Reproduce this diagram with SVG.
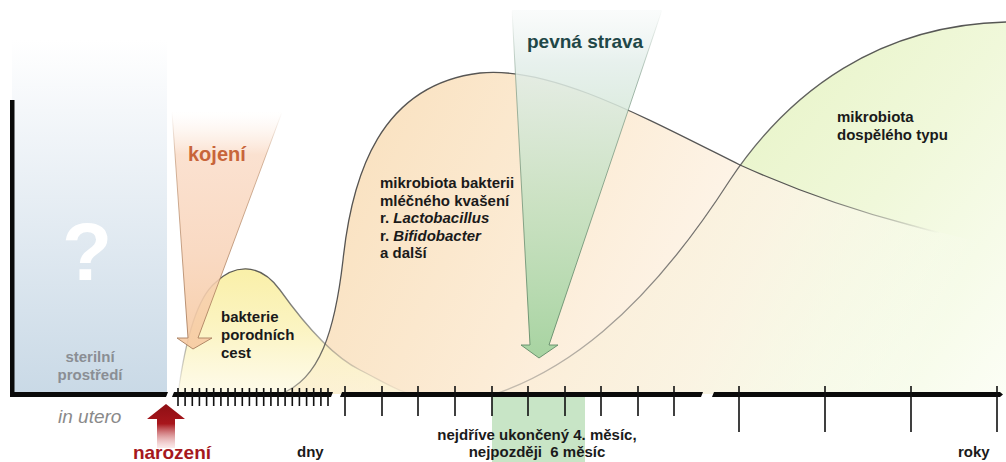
<svg xmlns="http://www.w3.org/2000/svg" width="1006" height="462" viewBox="0 0 1006 462">
<defs>
  <linearGradient id="gBlue" x1="0" y1="0" x2="0" y2="1">
    <stop offset="0" stop-color="#ffffff"/>
    <stop offset="0.2" stop-color="#f4f7fa"/>
    <stop offset="1" stop-color="#c9d9e6"/>
  </linearGradient>
  <linearGradient id="gPeach" gradientUnits="userSpaceOnUse" x1="340" y1="80" x2="1000" y2="380">
    <stop offset="0" stop-color="#f9e0bd"/>
    <stop offset="0.35" stop-color="#fcecd6"/>
    <stop offset="0.62" stop-color="#fdf3e6" stop-opacity="0.8"/>
    <stop offset="0.9" stop-color="#ffffff" stop-opacity="0"/>
  </linearGradient>
  <linearGradient id="gGreen" gradientUnits="userSpaceOnUse" x1="650" y1="120" x2="1006" y2="400">
    <stop offset="0" stop-color="#e6f3c4"/>
    <stop offset="0.5" stop-color="#f0f8da"/>
    <stop offset="1" stop-color="#fcfef6"/>
  </linearGradient>
  <linearGradient id="gYellow" x1="0" y1="0" x2="0" y2="1">
    <stop offset="0" stop-color="#f9ee9f"/>
    <stop offset="0.5" stop-color="#fbf3bd"/>
    <stop offset="1" stop-color="#fdf8dc" stop-opacity="0.7"/>
  </linearGradient>
  <linearGradient id="sPeach" gradientUnits="userSpaceOnUse" x1="280" y1="0" x2="940" y2="0">
    <stop offset="0" stop-color="#555" stop-opacity="0.4"/>
    <stop offset="0.08" stop-color="#444" stop-opacity="0.9"/>
    <stop offset="0.8" stop-color="#444" stop-opacity="0.9"/>
    <stop offset="1" stop-color="#555" stop-opacity="0"/>
  </linearGradient>
  <linearGradient id="sYellow" gradientUnits="userSpaceOnUse" x1="0" y1="265" x2="0" y2="394">
    <stop offset="0" stop-color="#444" stop-opacity="0.9"/>
    <stop offset="0.5" stop-color="#555" stop-opacity="0.6"/>
    <stop offset="1" stop-color="#666" stop-opacity="0.05"/>
  </linearGradient>
  <linearGradient id="sGreen" gradientUnits="userSpaceOnUse" x1="0" y1="22" x2="0" y2="394">
    <stop offset="0" stop-color="#444" stop-opacity="0.9"/>
    <stop offset="0.6" stop-color="#555" stop-opacity="0.8"/>
    <stop offset="1" stop-color="#666" stop-opacity="0.35"/>
  </linearGradient>
  <linearGradient id="gKojeni" x1="0" y1="0" x2="0" y2="1">
    <stop offset="0" stop-color="#fdf0e6" stop-opacity="0"/>
    <stop offset="0.18" stop-color="#fadcc8" stop-opacity="0.85"/>
    <stop offset="0.6" stop-color="#f8d3b8" stop-opacity="0.85"/>
    <stop offset="1" stop-color="#f6c9a0" stop-opacity="0.9"/>
  </linearGradient>
  <linearGradient id="sKojeni" x1="0" y1="0" x2="0" y2="1">
    <stop offset="0" stop-color="#b98a66" stop-opacity="0"/>
    <stop offset="0.2" stop-color="#b98a66" stop-opacity="0.6"/>
    <stop offset="1" stop-color="#a77c5c" stop-opacity="0.9"/>
  </linearGradient>
  <linearGradient id="gStrava" x1="0" y1="0" x2="0" y2="1">
    <stop offset="0" stop-color="#eef4f2" stop-opacity="0.3"/>
    <stop offset="0.15" stop-color="#e3eeea" stop-opacity="0.85"/>
    <stop offset="0.55" stop-color="#c3e0c0" stop-opacity="0.85"/>
    <stop offset="1" stop-color="#a3d29e" stop-opacity="0.95"/>
  </linearGradient>
  <linearGradient id="sStrava" x1="0" y1="0" x2="0" y2="1">
    <stop offset="0" stop-color="#6f8f7a" stop-opacity="0"/>
    <stop offset="0.2" stop-color="#6f8f7a" stop-opacity="0.6"/>
    <stop offset="1" stop-color="#5f8a66" stop-opacity="0.9"/>
  </linearGradient>
  <linearGradient id="gBirth" x1="0" y1="0" x2="0" y2="1">
    <stop offset="0" stop-color="#8e0f14"/>
    <stop offset="0.45" stop-color="#a8161c"/>
    <stop offset="1" stop-color="#f0b8b8" stop-opacity="0.3"/>
  </linearGradient>
</defs>
<style>
  .t{font-family:"Liberation Sans",Arial,sans-serif;font-weight:bold;font-size:15px;fill:#1a1a1a}
  .it{font-style:italic}
  .nb{font-weight:normal}
  .tick{stroke:#111;stroke-width:1.6;fill:none}
  .bar{fill:#0a0a0a}
</style>
<rect width="1006" height="462" fill="#ffffff"/>

<g id="in-utero-region">
  <rect x="12" y="40" width="155" height="356" fill="url(#gBlue)"/>
  <text x="87" y="280" text-anchor="middle" style="font-family:'Liberation Sans',Arial,sans-serif;font-weight:bold;font-size:82px;fill:#ffffff">?</text>
  <text x="90" y="362" text-anchor="middle" class="t" style="fill:#8a8e94">sterilní</text>
  <text x="90" y="380" text-anchor="middle" class="t" style="fill:#8a8e94">prostředí</text>
</g>

<g id="green-period">
  <rect x="492" y="396" width="93" height="66" fill="#c8e5c6"/>
</g>

<g id="hill-adult">
  <path d="M495,394 C560,372 640,320 730,180 C790,90 880,25 1006,22 L1006,394 Z" fill="url(#gGreen)"/>
</g>
<g id="hill-lacto">
  <path d="M280,394 C320,380 335,330 343,260 C352,175 380,85 480,73 C550,66 640,115 740,165 C800,192 860,212 910,225 C950,235 980,242 1006,247 L1006,394 Z" fill="url(#gPeach)"/>
</g>
<g id="hill-birth">
  <path d="M178,394 C184,350 195,300 215,283 C232,266 258,260 280,290 C300,318 330,355 360,370 C380,380 395,390 410,394 Z" fill="url(#gYellow)" fill-opacity="0.9"/>
</g>

<g id="hill-outlines" fill="none" stroke-width="1.3">
  <path d="M495,394 C560,372 640,320 730,180 C790,90 880,25 1006,22" stroke="url(#sGreen)"/>
  <path d="M280,394 C320,380 335,330 343,260 C352,175 380,85 480,73 C550,66 640,115 740,165 C800,192 860,212 910,225 C925,229 935,232 945,234" stroke="url(#sPeach)"/>
  <path d="M178,394 C184,350 195,300 215,283 C232,266 258,260 280,290 C300,318 330,355 360,370 C380,380 395,390 410,394" stroke="url(#sYellow)"/>
</g>

<g id="connectors">
  <path id="arrow-kojeni" d="M172,112 L282,112 L198,338 L212,338 L193,349 L177,338 L188,338 Z" fill="url(#gKojeni)" stroke="url(#sKojeni)" stroke-width="1"/>
  <path id="arrow-strava" d="M512,10 L662,10 L549,345 L558,345 L539,358 L521,345 L530,345 Z" fill="url(#gStrava)" stroke="url(#sStrava)" stroke-width="1"/>
  <path id="arrow-narozeni" d="M166,404 L185,419 L175,419 L175,448 L157,448 L157,419 L147,419 Z" fill="url(#gBirth)"/>
</g>

<g id="axes">
  <rect x="10" y="100" width="4.5" height="297" class="bar"/>
  <polygon points="10,392 168,392 166,397 10,397" class="bar"/>
  <polygon points="174,392 333,392 331,397 172,397" class="bar"/>
  <polygon points="342,392 703,392 701,397 340,397" class="bar"/>
  <polygon points="714,392 1000,392 1003,394.5 1000,397 712,397" class="bar"/>
  <path class="tick" d="M178,388V406 M185.1,388V406 M192.3,388V406 M199.4,388V406 M206.6,388V406 M213.7,388V406 M220.9,388V406 M228,388V406 M235.1,388V406 M242.3,388V406 M249.4,388V406 M256.6,388V406 M263.7,388V406 M270.9,388V406 M278,388V406 M285.1,388V406 M292.3,388V406 M299.4,388V406 M306.6,388V406 M313.7,388V406 M320.9,388V406 M328,388V406"/>
  <path class="tick" d="M345,386V416 M382,386V416 M418,386V416 M455,386V416 M492,386V416 M528,386V416 M565,386V416 M601,386V416 M638,386V416 M674,386V416"/>
  <path class="tick" d="M739,386V432 M825,386V432 M911,386V432 M997,386V432"/>
</g>

<g id="labels">
  <text x="188" y="161" class="t" style="font-size:20px;fill:#c8653a">kojení</text>
  <text x="527" y="48" class="t" style="font-size:19px;fill:#1f4747">pevná strava</text>
  <text x="221" y="322" class="t">bakterie</text>
  <text x="221" y="340" class="t">porodních</text>
  <text x="221" y="358" class="t">cest</text>
  <text x="380" y="188" class="t">mikrobiota bakterii</text>
  <text x="380" y="205.5" class="t">mléčného kvašení</text>
  <text x="380" y="223" class="t">r. <tspan class="it">Lactobacillus</tspan></text>
  <text x="380" y="240.5" class="t">r. <tspan class="it">Bifidobacter</tspan></text>
  <text x="380" y="258" class="t">a další</text>
  <text x="837" y="122" class="t">mikrobiota</text>
  <text x="837" y="140" class="t">dospělého typu</text>
  <text x="58" y="423" class="t it nb" style="font-size:19px;fill:#8a8a8a">in utero</text>
  <text x="172" y="459" text-anchor="middle" class="t" style="font-size:19px;fill:#a5181d">narození</text>
  <text x="297" y="457" class="t">dny</text>
  <text x="537" y="440" text-anchor="middle" class="t">nejdříve ukončený 4. měsíc,</text>
  <text x="537" y="457" text-anchor="middle" class="t">nejpozději&#160; 6 měsíc</text>
  <text x="958" y="457" class="t">roky</text>
</g>
</svg>
